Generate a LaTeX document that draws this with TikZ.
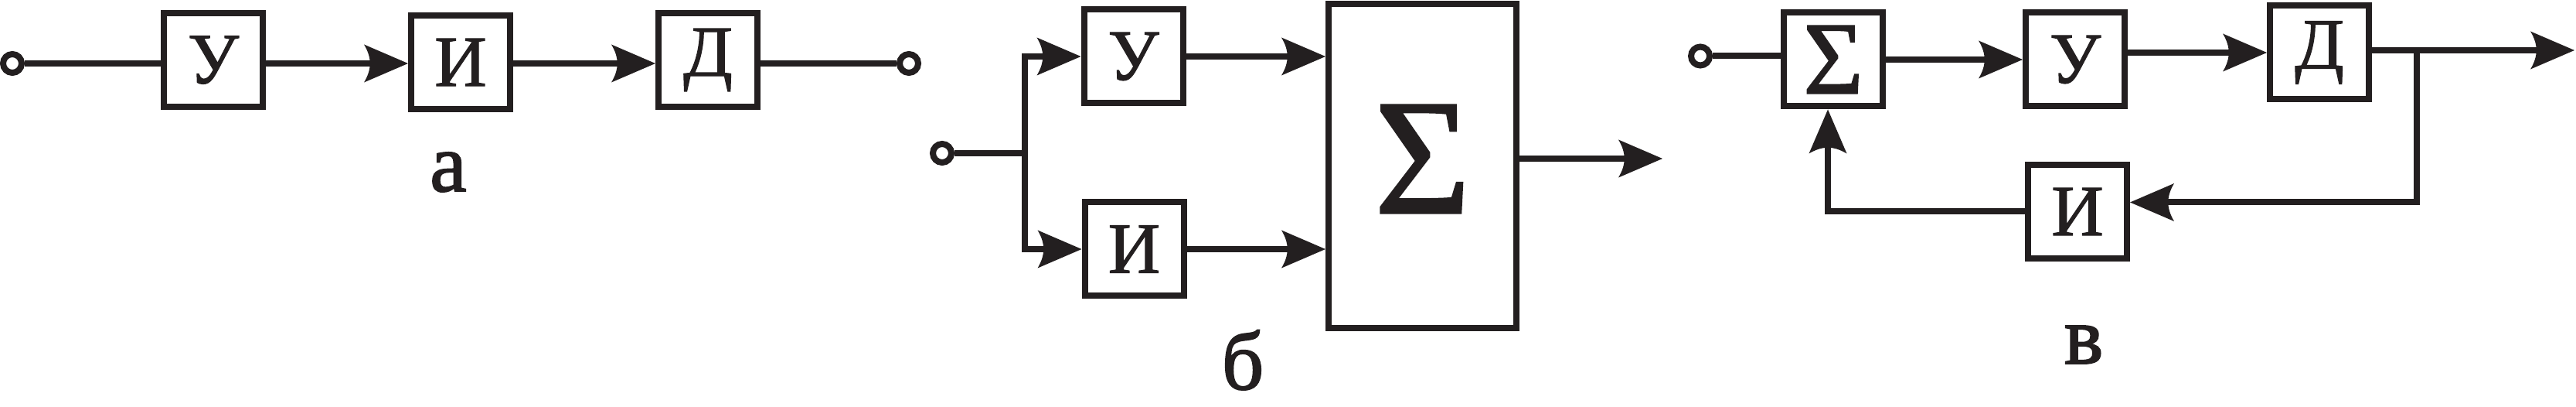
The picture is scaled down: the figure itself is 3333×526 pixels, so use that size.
\documentclass[tikz,border=0pt]{standalone}
\usepackage{fontspec}
\setmainfont{Liberation Serif}
\newfontfamily\heavy[FakeBold=1.3]{Liberation Serif}
\newfontfamily\heavier[FakeBold=1.8]{Liberation Serif}
\usetikzlibrary{arrows.meta}
\definecolor{ink}{RGB}{35,31,32}
\pgfdeclarearrow{
  name = Harp,
  parameters = {\the\pgfarrowlength,\the\pgfarrowwidth},
  setup code = {
    \pgfarrowssettipend{0pt}
    \pgfarrowssetlineend{-.7\pgfarrowlength}
    \pgfarrowssetvisualbackend{-.86\pgfarrowlength}
    \pgfarrowssetbackend{-\pgfarrowlength}
    \pgfarrowssavethe\pgfarrowlength
    \pgfarrowssavethe\pgfarrowwidth
  },
  drawing code = {
    \pgfpathmoveto{\pgfpointorigin}
    \pgfpathlineto{\pgfpoint{-\pgfarrowlength}{.5\pgfarrowwidth}}
    \pgfpathcurveto{\pgfpoint{-.82\pgfarrowlength}{.15\pgfarrowwidth}}{\pgfpoint{-.82\pgfarrowlength}{-.15\pgfarrowwidth}}{\pgfpoint{-\pgfarrowlength}{-.5\pgfarrowwidth}}
    \pgfpathclose
    \pgfusepathqfill
  },
  defaults = {length = 17.1pt, width = 14.7pt}
}
\tikzset{
  blk/.style={draw, line width=2.4pt, inner sep=0pt, minimum width=38.4pt, minimum height=36.3pt, font=\heavy\fontsize{28}{30}\selectfont, fill=white},
  term/.style={circle, draw, line width=2.4pt, minimum size=7.2pt, inner sep=0pt, fill=white},
  wire/.style={line width=2.4pt, line join=miter},
  arr/.style={wire, -{Harp[length=17.1pt,width=14.7pt]}},
  lbl/.style={font=\heavier\fontsize{32}{34}\selectfont, anchor=base, inner sep=0pt},
}
\begin{document}
\begin{tikzpicture}[x=0.3pt, y=-0.3pt, color=ink]
\useasboundingbox (0,0) rectangle (3333,526);

% ---------- a ----------
\node[term] (ina) at (16,82) {};
\node[blk] (Ua) at (276,77.5) {У};
\node[blk] (Ia) at (596,80.5) {И};
\node[blk] (Da) at (916,77.5) {Д};
\node[term] (outa) at (1176,82) {};
\draw[wire] (ina) -- (ina -| Ua.west);
\draw[arr] (Ua.east |- ina) -- (Ia.west |- ina);
\draw[arr] (Ia.east |- ina) -- (Da.west |- ina);
\draw[wire] (Da.east |- ina) -- (outa);
\node[lbl] (la) at (580,247) {а};

% ---------- b ----------
\node[term] (inb) at (1219,198) {};
\node[blk] (Ub) at (1466.5,73) {У};
\node[blk] (Ib) at (1467.5,322) {И};
\node[blk, minimum width=72.9pt, minimum height=125.7pt, text depth=5.4pt, font=\heavy\fontsize{64}{66}\selectfont] (Sb) at (1840.5,214.5) {Σ};
\coordinate (bus) at (1326,198);
\draw[wire] (inb) -- (bus);
\draw[arr] (bus) |- (Ub.west);
\draw[arr] (bus) |- (Ib.west);
\draw[arr] (Ub.east) -- (Ub.east -| Sb.west);
\draw[arr] (Ib.east) -- (Ib.east -| Sb.west);
\coordinate (outb) at (2151,205);
\draw[arr] (Sb.east |- outb) -- (outb);
\node[lbl] (lb) at (1608,503) {б};

% ---------- c ----------
\node[term] (inc) at (2200,72.5) {};
\node[blk, font=\heavy\fontsize{40}{42}\selectfont] (Sc) at (2372,77) {Σ};
\node[blk] (Uc) at (2685,77) {У};
\node[blk] (Dc) at (3001,68) {Д};
\node[blk] (Ic) at (2688,273.5) {И};
\draw[wire] (inc) -- (inc -| Sc.west);
\draw[arr] (Sc.east) -- (Sc.east -| Uc.west);
\draw[arr] (Uc.east |- Dc.west) -- (Dc.west);
\coordinate (outc) at (3331,65);
\coordinate (tap) at (3127,65);
\coordinate (fb) at (3127,261.5);
\coordinate (up) at (2365,273.5);
\draw[arr] (Dc.east |- outc) -- (outc);
\draw[arr] (tap) -- (fb) -- (fb -| Ic.east);
\draw[arr] (Ic.west) -- (up) -- (up |- Sc.south);
\node[lbl] (lc) at (2696,470) {в};
\end{tikzpicture}
\end{document}
